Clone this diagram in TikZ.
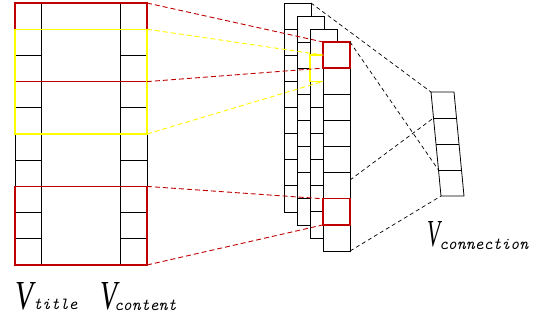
\documentclass[tikz,border=0pt]{standalone}
\usepackage{fontspec}
\usetikzlibrary{calc}
\newfontfamily\serifit{Liberation Serif}
\definecolor{dred}{RGB}{192,0,0}
\definecolor{yel}{RGB}{255,255,0}
\begin{document}
\begin{tikzpicture}[x=1pt,y=-1pt,
  cell/.style={draw=black,line width=0.8pt},
  colbox/.style={draw=black,line width=0.8pt,fill=white,inner sep=0pt,outer sep=0pt,anchor=north west,minimum width=27pt,minimum height=209pt},
  cellbox/.style={inner sep=0pt,outer sep=0pt,anchor=north west,minimum width=27pt,minimum height=26.125pt},
  bigbox/.style={inner sep=0pt,outer sep=0pt,anchor=north west,minimum width=132pt},
  redbox/.style={draw=dred,line width=1.4pt},
  yelbox/.style={draw=yel,line width=1.4pt},
  reddash/.style={dred,line width=0.9pt,dash pattern=on 5pt off 3pt},
  yeldash/.style={yel,line width=0.9pt,dash pattern=on 5pt off 3pt},
  blkdash/.style={black,line width=0.7pt,dash pattern=on 4pt off 3pt},
  lbl/.style={inner sep=0pt,outer sep=0pt},
  subf/.style={lbl,anchor=base west,font=\ttfamily\itshape\fontsize{17}{17}\selectfont}
]
\useasboundingbox (0,0) rectangle (548,322);
% left matrix
\def\rh{26.2}
\node[cell,bigbox,minimum height=262pt] (M) at (15,3) {};
\draw[cell] (41,3) -- (41,265);
\draw[cell] (120,3) -- (120,265);
\foreach \i in {1,...,9} {
  \draw[cell] (15,3+\i*\rh) -- (41,3+\i*\rh);
  \draw[cell] (120,3+\i*\rh) -- (147,3+\i*\rh);
}
\node[redbox,bigbox,minimum height=78.6pt] (R1) at (15,3) {};
\node[redbox,bigbox,minimum height=78.6pt] (R2) at (15,186.4) {};
\node[yelbox,bigbox,minimum height=104.8pt] (Y1) at (15,29.2) {};
% stacked columns
\def\ch{26.125}
\node[colbox] (C1) at (284,3) {};
\foreach \i in {1,...,7} \draw[cell] (284,3+\i*\ch) -- (311,3+\i*\ch);
\node[colbox] (C2) at (297,16) {};
\foreach \i in {1,...,7} \draw[cell] (297,16+\i*\ch) -- (324,16+\i*\ch);
\node[colbox] (C3) at (310,29) {};
\foreach \i in {1,...,7} \draw[cell] (310,29+\i*\ch) -- (337,29+\i*\ch);
\node[yelbox,cellbox] (Y2) at (310,55.125) {};
\node[colbox] (C4) at (323,42) {};
\foreach \i in {1,...,7} \draw[cell] (323,42+\i*\ch) -- (350,42+\i*\ch);
\node[redbox,cellbox] (R3) at (323,42) {};
\node[redbox,cellbox] (R4) at (323,198.75) {};
% connection vector
\coordinate (TL) at (431,92);
\coordinate (TR) at (454,92);
\coordinate (BL) at (441,196);
\coordinate (BR) at (464,196);
\draw[cell] (TL) -- (TR) -- (BR) -- (BL) -- cycle;
\foreach \i in {1,2,3} \draw[cell] ($(TL)!\i/4!(BL)$) -- ($(TR)!\i/4!(BR)$);
\coordinate (K1) at ($(TL)!1/4!(BL)$);
\coordinate (K3) at ($(TL)!3/4!(BL)$);
\coordinate (C4m) at (350,180);
% connectors
\draw[reddash] (R1.north east) -- (R3.north west);
\draw[reddash] (R1.south east) -- (R3.south west);
\draw[yeldash] (Y1.north east) -- (Y2.north);
\draw[yeldash] (Y1.south east) -- (Y2.south);
\draw[reddash] (R2.north east) -- (R4.north west);
\draw[reddash] (R2.south east) -- (R4.south west);
\draw[blkdash] (C1.north east) -- (TL);
\draw[blkdash] (C4.north east) -- (K3);
\draw[blkdash] (C4m) -- (K1);
\draw[blkdash] (C4.south east) -- (BL);
% labels
\node[lbl,anchor=south west] (Vt) at (15,310) {\resizebox{18pt}{27pt}{\serifit\itshape V}};
\node[subf] (St) at (33,309) {title};
\node[lbl,anchor=south west] (Vc) at (100,310) {\resizebox{17pt}{27pt}{\serifit\itshape V}};
\node[subf] (Sc) at (114,310) {content};
\node[lbl,anchor=south west] (Vn) at (427,247) {\resizebox{13pt}{25pt}{\serifit\itshape V}};
\node[subf] (Sn) at (439,249) {connection};
\end{tikzpicture}
\end{document}
